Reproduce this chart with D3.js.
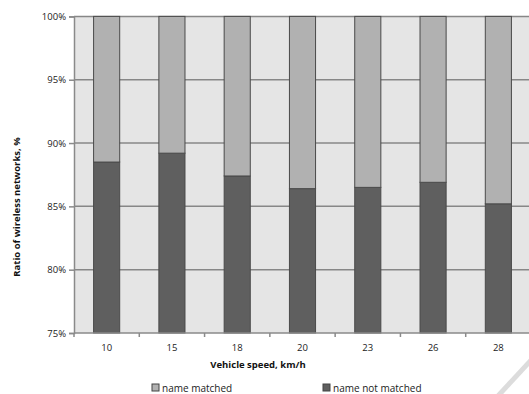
<!DOCTYPE html>
<html><head><meta charset="utf-8">
<script src="https://cdn.jsdelivr.net/npm/d3@7"></script>
<style>body{margin:0;background:#fff;}svg{display:block;}</style>
</head><body>
<svg id="c" width="529" height="394"></svg>
<script>
const categories = ["10","15","18","20","23","26","28"];
const notMatched = [0.885,0.892,0.874,0.864,0.865,0.869,0.852];
const matched = notMatched.map(v => +(1 - v).toFixed(3));
const yTicks = [0.75,0.80,0.85,0.90,0.95,1.00];
const seriesNames = ["name matched","name not matched"];
const colors = {"name matched":"#b1b1b1","name not matched":"#5f5f5f"};

(function(){
const svg = d3.select("#c");
const font = "'Open Sans', 'Noto Sans', sans-serif";
const pL = 74, pR = 531, pT = 16.4, pB = 333;

const x = d3.scaleBand().domain(categories).range([pL, pR]).paddingInner(0.6).paddingOuter(0.3);
const xOuter = d3.scaleBand().domain(categories).range([pL, pR]);
const y = d3.scaleLinear().domain([0.75, 1]).range([pB, pT]);

const g = svg.append("g");
g.append("rect").attr("x", pL).attr("y", pT).attr("width", pR-pL).attr("height", pB-pT).attr("fill", "#e5e5e5");
g.selectAll(".grid").data(yTicks.slice(1)).join("line")
  .attr("x1", pL).attr("x2", pR).attr("y1", d => y(d)).attr("y2", d => y(d))
  .attr("stroke", "#878787").attr("stroke-width", 1.5);

const rows = categories.map((c,i) => ({cat:c, "name not matched": notMatched[i], "name matched": matched[i]}));
const stack = d3.stack().keys(["name not matched","name matched"]);
const layers = stack(rows);
g.selectAll(".layer").data(layers).join("g")
  .attr("fill", d => colors[d.key])
  .selectAll("rect").data(d => d).join("rect")
  .attr("x", d => x(d.data.cat))
  .attr("width", x.bandwidth())
  .attr("y", d => y(Math.min(d[1], 1)))
  .attr("height", d => y(Math.max(d[0], 0.75)) - y(Math.min(d[1], 1)))
  .attr("stroke", "#4a4a4a").attr("stroke-width", 1);

const yAxis = d3.axisLeft(y).tickValues(yTicks).tickFormat(d3.format(".0%")).tickSize(5).tickPadding(3);
const ya = svg.append("g").attr("transform", `translate(${pL},0)`).call(yAxis);
ya.select(".domain").attr("stroke", "#8a8a8a").attr("stroke-width", 1.5);
ya.selectAll(".tick line").attr("stroke", "#8a8a8a").attr("stroke-width", 1.5);
ya.selectAll("text").attr("font-family", font).attr("font-size", 9.5).attr("fill", "#222");

const xa = svg.append("g").attr("transform", `translate(0,${pB})`);
xa.append("line").attr("x1", pL).attr("x2", pR).attr("y1", 0).attr("y2", 0).attr("stroke", "#8a8a8a").attr("stroke-width", 1.5);
xa.selectAll(".xt").data(categories).join("line")
  .attr("x1", d => xOuter(d)).attr("x2", d => xOuter(d)).attr("y1", 0).attr("y2", 4)
  .attr("stroke", "#8a8a8a").attr("stroke-width", 1.5);
xa.selectAll(".xl").data(categories).join("text")
  .attr("x", d => x(d) + x.bandwidth()/2).attr("y", 18)
  .attr("text-anchor", "middle").attr("font-family", font).attr("font-size", 9.5).attr("fill", "#222").text(d => d);

svg.append("text").attr("x", 258).attr("y", 368).attr("text-anchor", "middle")
  .attr("font-family", font).attr("font-size", 9.5).attr("font-weight", "bold").attr("fill", "#111")
  .text("Vehicle speed, km/h");
svg.append("text").attr("transform", "translate(20,207) rotate(-90)").attr("text-anchor", "middle")
  .attr("font-family", font).attr("font-size", 9.5).attr("font-weight", "bold").attr("fill", "#111")
  .text("Ratio of wireless networks, %");

const legX = [152, 323];
const lg = svg.selectAll(".leg").data(seriesNames).join("g").attr("transform", (d,i) => `translate(${legX[i]},384)`);
lg.append("rect").attr("x", 0).attr("y", 0).attr("width", 7).attr("height", 7)
  .attr("fill", d => colors[d]).attr("stroke", "#444").attr("stroke-width", 1);
lg.append("text").attr("x", 10).attr("y", 7.5).attr("font-family", font).attr("font-size", 10).attr("fill", "#222").text(d => d);

svg.append("line").attr("x1", 497).attr("y1", 397).attr("x2", 545).attr("y2", 345)
  .attr("stroke", "#dcdcdc").attr("stroke-width", 5);
})();
</script>
</body></html>
